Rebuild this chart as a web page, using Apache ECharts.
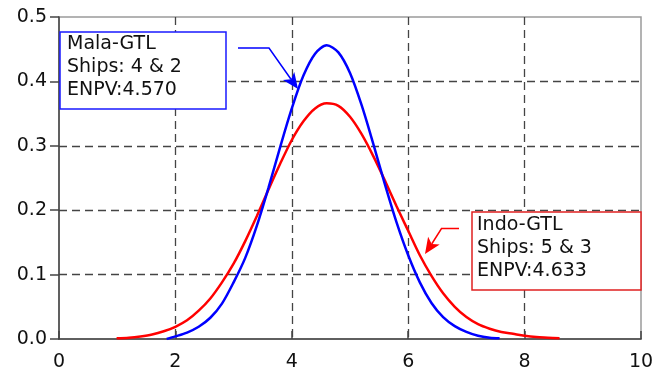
<!DOCTYPE html>
<html><head><meta charset="utf-8">
<script src="https://cdn.jsdelivr.net/npm/echarts@6/dist/echarts.min.js"></script>
<style>html,body{margin:0;padding:0;background:#fff}#c{width:668px;height:372px}</style>
</head><body><div id="c"></div>
<script>
// x positions and densities
var blueX = [1.85,2.0,2.2,2.4,2.6,2.8,3.0,3.2,3.4,3.6,3.8,4.0,4.2,4.4,4.6,4.8,5.0,5.2,5.4,5.6,5.8,6.0,6.2,6.4,6.6,6.8,7.0,7.2,7.4,7.57];
var blueY = [0.000,0.004,0.010,0.019,0.033,0.055,0.088,0.126,0.176,0.235,0.298,0.358,0.409,0.443,0.456,0.445,0.413,0.363,0.303,0.240,0.181,0.130,0.088,0.056,0.034,0.020,0.011,0.005,0.002,0.001];
var redX = [0.99,1.2,1.4,1.6,1.8,2.0,2.2,2.4,2.6,2.8,3.0,3.2,3.4,3.6,3.8,4.0,4.2,4.4,4.6,4.8,5.0,5.2,5.4,5.6,5.8,6.0,6.2,6.4,6.6,6.8,7.0,7.2,7.4,7.6,7.8,8.0,8.2,8.4,8.6];
var redY = [0.001,0.002,0.004,0.007,0.012,0.019,0.029,0.044,0.063,0.088,0.117,0.152,0.191,0.232,0.272,0.309,0.338,0.358,0.366,0.362,0.345,0.318,0.284,0.246,0.206,0.168,0.130,0.098,0.071,0.050,0.034,0.023,0.016,0.011,0.008,0.005,0.003,0.002,0.001];
var xTicks = [0,2,4,6,8,10];
var yTicks = [0.0,0.1,0.2,0.3,0.4,0.5];
var blueLabel = ['Mala-GTL','Ships: 4 & 2','ENPV:4.570'];
var redLabel = ['Indo-GTL','Ships: 5 & 3','ENPV:4.633'];

function pairs(xs, ys){ return xs.map(function(x,i){ return [x, ys[i]]; }); }

var FONT = '"DejaVu Sans", "Liberation Sans", Arial, sans-serif';
var chart = echarts.init(document.getElementById('c'), null, {renderer:'canvas'});

function textLines(lines, x, y0, dy){
  return lines.map(function(t,i){
    return {type:'text', z:101, style:{text:t, x:x, y:y0+i*dy, fill:'#111', font:'19px '+FONT, verticalAlign:'middle', align:'left'}};
  });
}

var graphics = [
  {type:'rect', z:100, shape:{x:60, y:32, width:166, height:77}, style:{fill:'#fff', stroke:'#1a1aff', lineWidth:1.5}},
  {type:'rect', z:100, shape:{x:472, y:212, width:169, height:78}, style:{fill:'#fff', stroke:'#e02020', lineWidth:1.5}},
  {type:'polyline', z:100, shape:{points:[[238,48],[269,48],[291.0,79.3]]}, style:{stroke:'#0000ff', lineWidth:1.5, fill:null}},
  {type:'polygon', z:100, shape:{points:[[298,89],[282.9,80.1],[291.0,79.3],[294.3,71.9]]}, style:{fill:'#0000ff'}},
  {type:'polyline', z:100, shape:{points:[[459,228.5],[441.5,228.5],[431.7,244.0]]}, style:{stroke:'#ff0000', lineWidth:1.5, fill:null}},
  {type:'polygon', z:100, shape:{points:[[425,254],[428.1,236.8],[431.7,244.0],[439.7,244.6]]}, style:{fill:'#ff0000'}}
].concat(textLines(blueLabel, 67, 44, 23)).concat(textLines(redLabel, 477, 225, 23));

chart.setOption({
  animation:false,
  backgroundColor:'#fff',
  grid:{left:59, right:27, top:17, bottom:31, show:true, borderColor:'#9a9a9a', borderWidth:1.5, backgroundColor:'transparent'},
  xAxis:{type:'value', min:xTicks[0], max:xTicks[xTicks.length-1], interval:2,
    axisLine:{show:true, onZero:false, lineStyle:{color:'#444', width:1.5}},
    axisTick:{show:true, inside:true, length:8, lineStyle:{color:'#444', width:1.5}},
    axisLabel:{color:'#111', fontSize:19, fontFamily:FONT, margin:14},
    splitLine:{show:true, showMinLine:false, showMaxLine:false, lineStyle:{color:'#444', type:[8,5], width:1.3}}},
  yAxis:{type:'value', min:yTicks[0], max:yTicks[yTicks.length-1], interval:0.1,
    axisLine:{show:true, onZero:false, lineStyle:{color:'#444', width:1.5}},
    axisTick:{show:true, inside:false, length:9, lineStyle:{color:'#444', width:1.5}},
    axisLabel:{color:'#111', fontSize:19, fontFamily:FONT, margin:12, formatter:function(v){return v.toFixed(1);}},
    splitLine:{show:true, showMinLine:false, showMaxLine:false, lineStyle:{color:'#444', type:[8,5], width:1.3}}},
  series:[
    {type:'line', name:'Indo-GTL', data:pairs(redX, redY), showSymbol:false, smooth:0.3, lineStyle:{color:'#ff0000', width:2.5}, itemStyle:{color:'#ff0000'}, z:3},
    {type:'line', name:'Mala-GTL', data:pairs(blueX, blueY), showSymbol:false, smooth:0.3, lineStyle:{color:'#0000ff', width:2.5}, itemStyle:{color:'#0000ff'}, z:4}
  ],
  graphic:graphics
});
</script></body></html>
